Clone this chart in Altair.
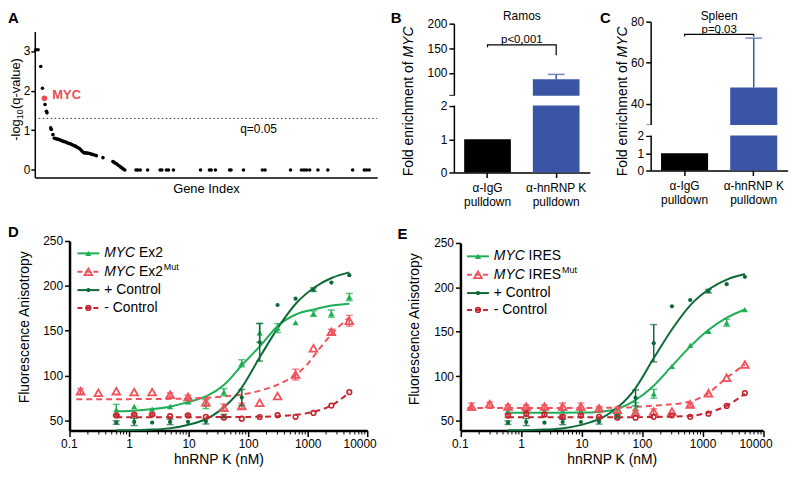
import altair as alt
import pandas as pd

FONT = "Liberation Sans"
LG = "#1fae55"   # light green
DG = "#0d6a38"   # dark green
LR = "#f0525c"   # light red
DR = "#c4252f"   # dark red
BLUE = "#3a55a5"
MYC_RED = "#ee4b55"

# ---------------- Panel A data ----------------
A_INDEX = [1.0, 3.3, 6.0, 7.7, 10.3, 11.7, 12.3, 16.0, 16.7, 18.3,
           19.7, 21.0, 22.3, 23.7, 25.0, 26.3, 27.7, 29.0, 30.3, 31.7,
           33.0, 34.3, 35.7, 37.0, 38.3, 39.7, 41.0, 42.3, 43.7, 45.0,
           46.3, 47.7, 49.0, 50.3, 51.7, 53.0, 54.3, 55.7, 57.0, 58.3, 59.7, 62.0, 68.7,
           78.7, 80.0, 81.3, 82.7, 84.0, 85.3, 86.7, 88.0, 89.3, 90.7,
           102, 103.7, 106.3, 113.7, 126.3, 128, 132.7, 134.7, 139.7, 167,
           176, 177.7, 182, 196.3, 197.7, 210.3, 229.3, 232, 257.7, 268.7,
           271.3, 273.7, 277, 285.3, 295.3, 320.3, 332, 334.3, 337]
A_LOGQ = [3.03, 3.03, 2.61, 2.06, 1.65, 1.48, 1.44, 1.06, 1.02, 0.89,
          0.80, 0.79, 0.78, 0.77, 0.76, 0.75, 0.73, 0.72, 0.71, 0.70,
          0.68, 0.67, 0.66, 0.64, 0.63, 0.61, 0.60, 0.58, 0.56, 0.54,
          0.51, 0.47, 0.44, 0.43, 0.43, 0.42, 0.42, 0.41, 0.40, 0.39, 0.38, 0.36, 0.31,
          0.21, 0.19, 0.17, 0.15, 0.12, 0.10, 0.07, 0.05, 0.02, 0.0,
          0.0, 0.0, 0.0, 0.0, 0.0, 0.0, 0.0, 0.0, 0.0, 0.0,
          0.0, 0.0, 0.0, 0.0, 0.0, 0.0, 0.0, 0.0, 0.0, 0.0,
          0.0, 0.0, 0.0, 0.0, 0.0, 0.0, 0.0, 0.0, 0.0]
MYC_INDEX = [9.7]
MYC_LOGQ = [1.81]
Q_LINE = 1.30
A_XMAX = 345

# ---------------- Panel B / C data ----------------
BC_CATS = ["IgG", "hnRNPK"]
BC_LABELS = ["α-IgG\npulldown", "α-hnRNP K\npulldown"]
B_MEAN = [1.0, 87.0]
B_HI = [1.0, 97.0]
C_MEAN = [1.0, 48.0]
C_HI = [1.0, 72.0]

# ---------------- Panel D / E data ----------------
CONC = [0.153, 0.305, 0.61, 1.22, 2.44, 4.88, 9.77, 19.5, 39.1, 78.1, 156, 312, 625, 1250, 2500, 5000]
CONC14 = [0.61, 1.22, 2.44, 4.88, 9.77, 19.5, 39.1, 78.1, 156, 312, 625, 1250, 2500, 5000]

D_EX2 = [61.8, 65.4, 62.5, 65.4, 70.7, 68.0, 81.4, 113.6, 147.5, 152.9, 159.0, 169.0, 169.0, 187.5]
D_EX2_ERR = [6, 0, 0, 0, 2, 5, 4, 4, 10.5, 5, 0, 3, 4, 4]
D_MUT = [82.5, 80.7, 82.5, 81.4, 81.4, 78.6, 76.0, 70.0, 64.0, 66.0, 69.6, 77.0, 101.0, 130.4, 148.6, 161.0]
D_MUT_ERR = [3, 0, 0, 0, 0, 2, 2, 4, 4, 3, 0, 0, 6, 0, 3, 6]
POS = [47.5, 48.2, 47.5, 48.2, 48.2, 48.9, 54.6, 75.4, 137.0, 178.6, 185.7, 195.7, 203.6, 211.8]
POS_ERR = [2, 4, 0, 3, 0, 3, 2, 9, 21, 0, 0, 2, 0, 0]
D_NEG = [55.4, 56.4, 56.4, 54.6, 55.4, 53.9, 52.9, 51.8, 53.6, 55.7, 53.9, 58.2, 66.4, 81.4]
D_NEG_ERR = [1, 1, 1, 0, 1, 0, 0, 0, 0, 0, 0, 0, 0, 0]

D_EX2_FIT_X = [0.61, 1, 2.5, 5, 10, 20, 40, 80, 170, 310, 630, 1350, 2570, 5000]
D_EX2_FIT_Y = [60, 60.5, 62.5, 65.5, 70.5, 77, 90, 112, 135, 155, 168, 174, 178, 180]
D_MUT_FIT_X = [0.13, 1, 10, 30, 100, 200, 400, 700, 1000, 1500, 2500, 5000]
D_MUT_FIT_Y = [73.5, 73.6, 74.3, 76, 80, 85, 93, 103, 113, 128, 146, 165]
POS_FIT_X = [0.61, 1, 2, 4.7, 10, 22, 32, 70, 162, 330, 630, 1350, 2570, 5000]
POS_FIT_Y = [38.8, 39, 39.5, 41, 45, 53, 60, 82, 122, 155, 180, 199, 209, 215]
D_NEG_FIT_X = [0.61, 10, 100, 300, 600, 1350, 2570, 5000]
D_NEG_FIT_Y = [53.5, 53.5, 53.8, 54.5, 56, 60, 67, 81]

E_IRES = [61.0, 61.0, 61.0, 61.0, 61.0, 61.0, 58.0, 64.0, 80.0, 111.0, 134.5, 150.5, 160.0, 174.8]
E_IRES_ERR = [0, 0, 0, 0, 0, 0, 3, 6, 5, 0, 0, 0, 4, 0]
E_MUT = [65.6, 68.5, 65.6, 65.6, 65.6, 65.6, 65.6, 63.7, 62.0, 59.0, 60.0, 60.0, 68.0, 80.7, 98.0, 113.0]
E_MUT_ERR = [4, 2, 2, 2, 2, 4, 4, 2, 3, 2, 3, 0, 2, 0, 0, 0]
E_NEG = [55.4, 57.6, 56.5, 54.0, 55.4, 54.0, 53.0, 53.0, 54.0, 55.8, 54.0, 57.6, 66.3, 80.8]
E_NEG_ERR = [2, 3, 2, 2, 2, 0, 0, 0, 0, 0, 0, 0, 0, 0]

E_IRES_FIT_X = [0.61, 10, 20, 37, 74, 150, 300, 600, 1200, 2400, 5000]
E_IRES_FIT_Y = [58.5, 58.8, 59.8, 62.5, 72, 88, 110, 132, 151, 165, 175]
E_MUT_FIT_X = [0.13, 10, 50, 150, 600, 1200, 2400, 5000]
E_MUT_FIT_Y = [64, 64, 64.5, 66.5, 71, 80, 97, 113]
E_NEG_FIT_X = [0.61, 10, 100, 600, 1250, 2500, 5000]
E_NEG_FIT_Y = [53.5, 53.5, 53.7, 55, 59, 66.5, 80]

X_MAJOR = [0.1, 1, 10, 100, 1000, 10000]
X_MINOR = [0.2, 0.3, 0.4, 0.5, 0.6, 0.7, 0.8, 0.9,
           2, 3, 4, 5, 6, 7, 8, 9,
           20, 30, 40, 50, 60, 70, 80, 90,
           200, 300, 400, 500, 600, 700, 800, 900,
           2000, 3000, 4000, 5000, 6000, 7000, 8000, 9000]
Y_TICKS = [50, 100, 150, 200, 250]

# ---------------- layout (page pixels) ----------------
COL_X = [35, 456.7, 655]
ROW_Y = [19, 240]
COL_GAP = 61.3
ROW_GAP = 64


def one_row():
    return pd.DataFrame({"k": [0]})


def tmark(text, x, y, size=13, weight="normal", style="normal", color="black",
          angle=0, align="left", baseline="top"):
    return alt.Chart(one_row()).mark_text(
        text=text, fontSize=size, fontWeight=weight, fontStyle=style, color=color,
        angle=angle, align=align, baseline=baseline, font=FONT
    ).encode(x=alt.value(x), y=alt.value(y))


# ======================= Panel A =======================
gx, gy = COL_X[0], ROW_Y[0]
A_H = 157
xsA = alt.Scale(domain=[0, A_XMAX], range=[0, 345], nice=False, zero=False)
ysA = alt.Scale(domain=[-0.19, 3.49], range=[A_H, 10], nice=False, zero=False)
axAx = alt.Axis(title="Gene Index", labels=False, ticks=False, domainWidth=1.5,
                titleFontSize=13, titleFontWeight="normal", titlePadding=5, grid=False)
axAy = alt.Axis(values=[0, 1, 2, 3], tickCount=20, format="d", title=None, tickSize=4,
                tickWidth=1.5, domainWidth=1.5, labelFontSize=12, labelPadding=1, grid=False)
XA = alt.X("idx:Q", scale=xsA, axis=axAx)
YA = alt.Y("q:Q", scale=ysA, axis=axAy)

dfA = pd.DataFrame({"idx": A_INDEX, "q": A_LOGQ})
dfM = pd.DataFrame({"idx": MYC_INDEX, "q": MYC_LOGQ, "label": ["MYC"]})

a_pts = alt.Chart(dfA).mark_circle(size=13, color="black", opacity=1).encode(x=XA, y=YA)
a_qline = alt.Chart(one_row()).mark_rule(color="#333333", strokeWidth=1, strokeDash=[1.5, 2.5]).encode(
    x=alt.datum(0), x2=alt.datum(A_XMAX), y=alt.datum(Q_LINE))
a_qtext = alt.Chart(one_row()).mark_text(text="q=0.05", align="left", baseline="middle",
                                          fontSize=12, font=FONT).encode(
    x=alt.datum(207), y=alt.datum(1.03))
a_myc = alt.Chart(dfM).mark_circle(size=32, color=MYC_RED, opacity=1).encode(x=XA, y=YA)
a_myct = alt.Chart(dfM).mark_text(align="left", baseline="middle", dx=8, dy=-3, fontSize=13,
                                  fontWeight="bold", color=MYC_RED, font=FONT).encode(
    x=XA, y=YA, text="label:N")

panelA = alt.layer(
    a_pts, a_qline, a_myc, a_myct, a_qtext,
    tmark("A", 8 - gx, 8 - gy, size=15, weight="bold"),
    tmark("-log", 16 - gx, 139 - gy, size=13, angle=270, baseline="middle"),
    tmark("10", 20 - gx, 117.3 - gy, size=9, angle=270, baseline="middle"),
    tmark("(q-value)", 16 - gx, 107 - gy, size=13, angle=270, baseline="middle"),
).properties(width=COL_X[1] - COL_X[0] - COL_GAP, height=A_H)


# ======================= Panels B, C =======================
def bar_panel(col, letter, letter_px, title, mean, hi, dom, rng, tvals, hidden, gap,
              bracket, ptext, ptext_y, W, H, ytitle_px):
    gx, gy = COL_X[col], ROW_Y[0]
    df = pd.DataFrame({"cat": BC_CATS, "label": BC_LABELS, "mean": mean, "hi": hi})
    xs = alt.Scale(domain=BC_CATS, paddingInner=0.32, paddingOuter=0.15)
    ys = alt.Scale(domain=dom, range=rng, nice=False, zero=False)
    xax = alt.Axis(title=None, labels=False, ticks=True, tickSize=5, tickWidth=1.5,
                   domainWidth=1.5, grid=False)
    yax = alt.Axis(values=tvals, tickCount=50, title=None, tickSize=5, tickWidth=1.5,
                   domainWidth=1.5, labelFontSize=12, labelPadding=2, grid=False,
                   labelOverlap=False,
                   labelExpr=f"datum.value == {hidden} ? '' : format(datum.value, 'd')")
    X = alt.X("cat:N", scale=xs, axis=xax, sort=BC_CATS)

    bars = alt.Chart(df).mark_bar().encode(
        x=X, y=alt.Y("mean:Q", scale=ys, axis=yax), y2=alt.datum(0),
        color=alt.Color("cat:N", scale=alt.Scale(domain=BC_CATS, range=["black", BLUE]), legend=None))
    gap_rect = alt.Chart(one_row()).mark_rect(color="white").encode(
        x=alt.value(-6), x2=alt.value(W + 2), y=alt.datum(gap[0]), y2=alt.datum(gap[1]))
    dfe = df[df["cat"] == "hnRNPK"]
    err = alt.Chart(dfe).mark_rule(color=BLUE, strokeWidth=1.5).encode(
        x=X, y=alt.Y("mean:Q", scale=ys, axis=yax), y2="hi:Q")
    cap = alt.Chart(dfe).mark_tick(color=BLUE, thickness=1.5, size=17).encode(
        x=X, y=alt.Y("hi:Q", scale=ys, axis=yax))
    dfb = pd.DataFrame({"cat": ["IgG", "IgG", "hnRNPK", "hnRNPK"],
                        "v": [bracket[1], bracket[0], bracket[0], bracket[2]],
                        "o": [0, 1, 2, 3]})
    br = alt.Chart(dfb).mark_line(color="black", strokeWidth=1.2).encode(
        x=X, y=alt.Y("v:Q", scale=ys, axis=yax), order="o:Q")
    brtick = alt.Chart(one_row()).mark_rule(color="black", strokeWidth=1.2).encode(
        x=alt.value(W / 2), y=alt.datum(bracket[0]), y2=alt.datum(bracket[3]))
    ptxt = alt.Chart(one_row()).mark_text(text=ptext, fontSize=11.5, align="center",
                                          baseline="alphabetic", font=FONT).encode(
        x=alt.value(W / 2), y=alt.datum(ptext_y))
    xlab = alt.Chart(df).mark_text(lineBreak="\n", baseline="top", align="center", fontSize=12,
                                   lineHeight=14, font=FONT).encode(
        x=X, y=alt.value(H + 11), text="label:N")
    return alt.layer(
        bars, gap_rect, err, cap, br, brtick, ptxt, xlab,
        tmark(letter, letter_px - gx, 8 - gy, size=15, weight="bold"),
        tmark(title, W / 2, 8 - gy, size=12, align="center"),
        tmark("Fold enrichment of", ytitle_px - gx, 59 - gy, size=14, angle=270,
              align="right", baseline="middle"),
        tmark("MYC", ytitle_px - gx, 55 - gy, size=14, angle=270, style="italic",
              align="left", baseline="middle"),
    ).properties(width=W, height=H)


panelB = bar_panel(1, "B", 393, "Ramos", B_MEAN, B_HI, [0, 2, 55, 200], [152, 85, 74, 2],
                   [0, 1, 2, 55, 100, 150, 200], 55, [5, 52], [157, 152, 136, 161],
                   "p<0.001", 160, 137, 152, 411.7)
panelC = bar_panel(2, "C", 604, "Spleen", C_MEAN, C_HI, [0, 2, 30, 80], [150, 115.2, 103.6, 0],
                   [0, 1, 2, 30, 40, 60, 80], 30, [3, 29], [73.8, 72.8, 72.8, 75.0],
                   "p=0.03", 74.6, 138, 150, 626.7)


# ======================= Panels D, E =======================
def make_series(xs, ys, errs):
    return pd.DataFrame({"c": xs, "v": ys, "lo": [y - e for y, e in zip(ys, errs)],
                         "hi": [y + e for y, e in zip(ys, errs)], "e": errs})


def binding_panel(col, letter, letter_pxy, series, plot_x0, plot_x1, plot_top, H, width,
                  ytitle_pxy, leg_rows, leg_x, leg_word, mut_dx):
    gx, gy = COL_X[col], ROW_Y[1]
    x0, x1, top = plot_x0 - gx, plot_x1 - gx, plot_top - gy
    xs = alt.Scale(type="log", domain=[0.1, 10000], range=[x0, x1], nice=False)
    ys = alt.Scale(domain=[38.6, 250], range=[H, top], nice=False, zero=False)
    major = alt.Axis(values=X_MAJOR, tickCount=50, title="hnRNP K (nM)", titleFontSize=14,
                     titleFontWeight="normal", titlePadding=3, tickSize=6, tickWidth=1.5,
                     domainWidth=2.5, labelFontSize=12, labelPadding=2, labelFlush=True,
                     labelFlushOffset=9, grid=False, orient="bottom",
                     labelExpr="datum.value < 0.5 ? '0.1' : format(datum.value, 'd')")
    minor = alt.Axis(values=X_MINOR, tickCount=200, title=None, labels=False, tickSize=3.5,
                     tickWidth=1, domain=False, grid=False, orient="bottom")
    yax = alt.Axis(values=Y_TICKS, tickCount=50, format="d", title=None, tickSize=5,
                   tickWidth=1.5, domainWidth=2.5, labelFontSize=12, labelPadding=2,
                   grid=False, offset=-x0)

    def X(ax=None):
        return alt.X("c:Q", scale=xs, axis=ax)

    def Y(f):
        return alt.Y(f"{f}:Q", scale=ys, axis=yax)

    layers = []
    for i, s in enumerate(series):
        fit = pd.DataFrame({"c": s["fx"], "v": s["fy"]})
        ax = major if i == 0 else (minor if i == 1 else None)
        line_kw = dict(color=s["color"], strokeWidth=2, interpolate="monotone")
        if s["dash"]:
            line_kw["strokeDash"] = [6, 4]
        layers.append(alt.Chart(fit).mark_line(**line_kw).encode(x=X(ax), y=Y("v")))
    for s in series:
        df = make_series(s["x"], s["y"], s["err"])
        dfe = df[df["e"] > 0]
        layers.append(alt.Chart(dfe).mark_rule(color=s["color"], strokeWidth=1.5).encode(
            x=X(), y=Y("lo"), y2="hi:Q"))
        for f in ["lo", "hi"]:
            layers.append(alt.Chart(dfe).mark_tick(color=s["color"], orient="horizontal",
                                                   thickness=1.5, size=7).encode(x=X(), y=Y(f)))
        layers.append(alt.Chart(df).mark_point(**s["mark"]).encode(x=X(), y=Y("v")))
    # legend (page coordinates -> group coordinates)
    lx = leg_x - gx
    rows = [r - gy for r in leg_rows]
    for s, ry in zip(series, rows):
        rule_kw = dict(color=s["color"], strokeWidth=2)
        if s["dash"]:
            rule_kw["strokeDash"] = [5, 3]
        layers.append(alt.Chart(one_row()).mark_rule(**rule_kw).encode(
            x=alt.value(lx), x2=alt.value(lx + 22), y=alt.value(ry)))
        layers.append(alt.Chart(one_row()).mark_point(**s["mark"]).encode(
            x=alt.value(lx + 11), y=alt.value(ry)))
    tx = lx + 27
    layers += [
        tmark("MYC", tx, rows[0], size=14, style="italic", baseline="middle"),
        tmark(leg_word, tx + 35, rows[0], size=14, baseline="middle"),
        tmark("MYC", tx, rows[1], size=14, style="italic", baseline="middle"),
        tmark(leg_word, tx + 35, rows[1], size=14, baseline="middle"),
        tmark("Mut", tx + 35 + mut_dx, rows[1] - 5, size=9, baseline="middle"),
        tmark("+ Control", tx, rows[2], size=14, baseline="middle"),
        tmark("- Control", tx, rows[3], size=14, baseline="middle"),
        tmark(letter, letter_pxy[0] - gx, letter_pxy[1] - gy, size=15, weight="bold"),
        tmark("Fluorescence Anisotropy", ytitle_pxy[0] - gx, ytitle_pxy[1] - gy, size=14,
              angle=270, align="center", baseline="middle"),
    ]
    return alt.layer(*layers).properties(width=width, height=H).resolve_axis(x="independent")


MK_LG = dict(shape="triangle-up", filled=True, size=38, color=LG, opacity=1)
MK_LR = dict(shape="triangle-up", filled=False, size=60, strokeWidth=1.8, color=LR, opacity=1)
MK_DG = dict(shape="circle", filled=True, size=18, color=DG, opacity=1)
MK_DR = dict(shape="circle", filled=False, size=22, strokeWidth=1.6, color=DR, opacity=1)

seriesD = [
    dict(x=CONC14, y=D_EX2, err=D_EX2_ERR, fx=D_EX2_FIT_X, fy=D_EX2_FIT_Y, color=LG, dash=False, mark=MK_LG),
    dict(x=CONC, y=D_MUT, err=D_MUT_ERR, fx=D_MUT_FIT_X, fy=D_MUT_FIT_Y, color=LR, dash=True, mark=MK_LR),
    dict(x=CONC14, y=POS, err=POS_ERR, fx=POS_FIT_X, fy=POS_FIT_Y, color=DG, dash=False, mark=MK_DG),
    dict(x=CONC14, y=D_NEG, err=D_NEG_ERR, fx=D_NEG_FIT_X, fy=D_NEG_FIT_Y, color=DR, dash=True, mark=MK_DR),
]
seriesE = [
    dict(x=CONC14, y=E_IRES, err=E_IRES_ERR, fx=E_IRES_FIT_X, fy=E_IRES_FIT_Y, color=LG, dash=False, mark=MK_LG),
    dict(x=CONC, y=E_MUT, err=E_MUT_ERR, fx=E_MUT_FIT_X, fy=E_MUT_FIT_Y, color=LR, dash=True, mark=MK_LR),
    dict(x=CONC14, y=POS, err=POS_ERR, fx=POS_FIT_X, fy=POS_FIT_Y, color=DG, dash=False, mark=MK_DG),
    dict(x=CONC14, y=E_NEG, err=E_NEG_ERR, fx=E_NEG_FIT_X, fy=E_NEG_FIT_Y, color=DR, dash=True, mark=MK_DR),
]

ROW2_H = 191
panelD = binding_panel(0, "D", (8, 224), seriesD, 70, 370, 240, ROW2_H, 335,
                       (25, 327), [252.5, 271, 289.5, 307.5], 78, "Ex2", 25)
panelE = binding_panel(1, "E", (400, 226), seriesE, 463.3, 768.3, 242, ROW2_H, 137,
                       (418, 329), [255.5, 274, 292.5, 309.5], 470, "IRES", 33.7)

chart = alt.concat(
    panelA, panelB, panelC, panelD, panelE, columns=3
).properties(
    bounds="flush", padding=0, spacing={"row": ROW_GAP, "column": COL_GAP}
).configure(
    font=FONT
).configure_view(stroke=None).configure_axis(
    labelFont=FONT, titleFont=FONT, labelColor="black", titleColor="black",
    domainColor="black", tickColor="black", grid=False
)

chart.save("out.html", embed_options={"renderer": "svg", "actions": False})
